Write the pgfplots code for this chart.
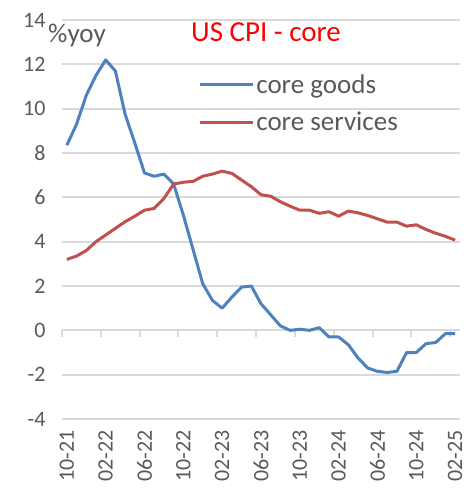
\documentclass[border=0pt]{standalone}
\usepackage{pgfplots}
\pgfplotsset{compat=1.18}
\usepackage{pgfplotstable}
\usepackage{fontspec}
\setmainfont{Carlito}
\definecolor{cblue}{HTML}{4F81BD}
\definecolor{cred}{HTML}{C0504D}
\definecolor{ctext}{HTML}{595959}
\definecolor{cgrid}{HTML}{D9D9D9}
\definecolor{ctitle}{HTML}{FF0000}

\pgfplotstableread{
idx goods services
0 8.35 3.20
1 9.30 3.35
2 10.60 3.60
3 11.50 4.00
4 12.20 4.30
5 11.70 4.60
6 9.75 4.90
7 8.45 5.15
8 7.10 5.42
9 6.95 5.50
10 7.05 5.95
11 6.60 6.60
12 5.20 6.68
13 3.65 6.72
14 2.10 6.95
15 1.35 7.05
16 1.00 7.18
17 1.50 7.08
18 1.95 6.78
19 2.00 6.48
20 1.20 6.12
21 0.70 6.05
22 0.20 5.80
23 0.00 5.60
24 0.05 5.42
25 0.00 5.42
26 0.12 5.28
27 -0.30 5.35
28 -0.30 5.15
29 -0.65 5.38
30 -1.25 5.30
31 -1.70 5.18
32 -1.85 5.03
33 -1.90 4.88
34 -1.85 4.88
35 -1.00 4.70
36 -1.00 4.76
37 -0.60 4.55
38 -0.55 4.38
39 -0.15 4.24
40 -0.15 4.07
}\cpidata

\begin{document}
\begin{tikzpicture}
\useasboundingbox (-62pt,-72pt) rectangle (406pt,419pt);
\begin{axis}[
  scale only axis, width=398pt, height=399pt,
  xmin=-0.5, xmax=40.5, ymin=-4, ymax=14,
  axis lines=left, axis line style={draw=none},
  ytick={-4,-2,...,14},
  yticklabels={-4,-2,0,2,4,6,8,10,12,14},
  xtick={0,4,...,40},
  xticklabels={10-21,02-22,06-22,10-22,02-23,06-23,10-23,02-24,06-24,10-24,02-25},
  major tick length=0pt,
  tick label style={font=\fontsize{22}{22}\selectfont, text=ctext},
  yticklabel style={anchor=east, xshift=-13pt},
  xticklabel style={rotate=90, anchor=east, xshift=-8pt},
  clip=false,
  legend style={draw=none, fill=none, at={(axis description cs:0.342,0.868)}, anchor=north west,
    font=\fontsize{27}{27}\selectfont, text=ctext, row sep=13pt, inner sep=0pt,
    nodes={inner sep=2pt}},
  legend cell align=left,
  legend image code/.code={\draw[#1] (0pt,0pt) -- (53pt,0pt);},
]
\pgfplotsinvokeforeach{-4,-2,0,2,4,6,8,10,12,14}{
  \addplot[draw=cgrid, line width=2pt, forget plot] coordinates {(-0.5,#1) (40.5,#1)};
}
\pgfplotsinvokeforeach{-0.5,3.5,7.5,11.5,15.5,19.5,23.5,27.5,31.5,35.5,39.5}{
  \addplot[draw=cgrid, line width=2pt, forget plot] coordinates {(#1,0) (#1,-0.32)};
}
\addplot[cblue, line width=3pt, line join=round] table[x=idx, y=goods] {\cpidata};
\addlegendentry{core goods}
\addplot[cred, line width=3pt, line join=round] table[x=idx, y=services] {\cpidata};
\addlegendentry{core services}
\end{axis}
\node[anchor=base west, inner sep=0pt, text=ctext, font=\fontsize{27}{27}\selectfont] at (-14pt,376pt) {\%yoy};
\node[anchor=base, inner sep=0pt, text=ctitle, font=\fontsize{29}{29}\selectfont] at (204pt,377pt) {US CPI - core};
\end{tikzpicture}
\end{document}
